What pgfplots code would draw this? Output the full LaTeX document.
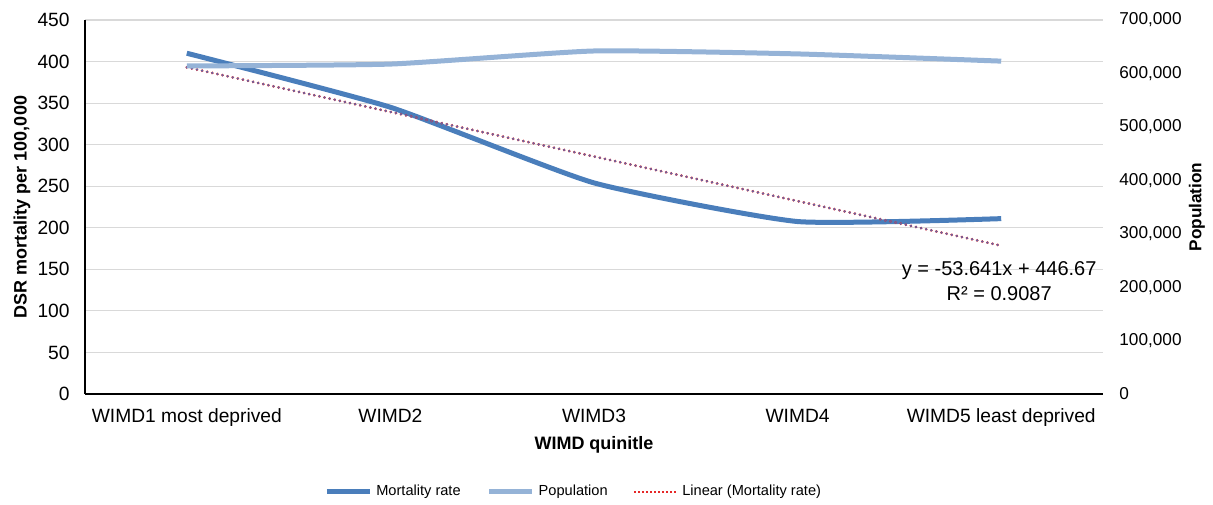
\documentclass[border=0pt]{standalone}
\usepackage{fontspec}
\setmainfont{Liberation Sans}
\usepackage{pgfplots}
\pgfplotsset{compat=1.18}

\definecolor{mortblue}{RGB}{74,126,187}
\definecolor{popblue}{RGB}{149,179,215}
\definecolor{gridgray}{RGB}{217,217,217}
\definecolor{trendred}{RGB}{230,40,40}
\definecolor{trendcore}{RGB}{100,100,165}

\begin{document}
\begin{tikzpicture}
% Primary axis: DSR mortality and its linear trend
\begin{axis}[
  name=ax,
  scale only axis,
  width=509pt, height=187pt,
  xmin=0.5, xmax=5.5,
  ymin=0, ymax=450,
  xtick={1,2,3,4,5},
  xticklabels={WIMD1 most deprived, WIMD2, WIMD3, WIMD4, WIMD5 least deprived},
  ytick={0,50,...,450},
  axis x line*=bottom, axis y line*=left,
  axis line style={black, line width=0.6pt},
  major tick length=0pt,
  ymajorgrids, grid style={gridgray, line width=0.6pt},
  /pgf/number format/assume math mode=true,
  every tick label/.append style={inner sep=0pt},
  xticklabel style={anchor=base, yshift=-14.5pt, font=\fontsize{9.6}{11}\selectfont},
  yticklabel style={anchor=east, xshift=-7.5pt, font=\fontsize{9.6}{11}\selectfont},
  xlabel={WIMD quinitle},
  xlabel style={at={(axis description cs:0.5,-0.136)}, anchor=center,
    font=\bfseries\fontsize{9}{11}\selectfont},
  ylabel={DSR mortality per 100,000},
  ylabel style={at={(axis description cs:-0.0619,0.5)}, anchor=center, rotate=0,
    font=\bfseries\fontsize{9}{11}\selectfont},
]
\addplot[mortblue, line width=2.5pt, smooth, tension=0.3] coordinates {
  (1,410) (2,345) (3,254) (4,207.5) (5,211)
};
% linear trend  y = -53.641x + 446.67
\addplot[trendred, line width=1.5pt, line cap=round, dash pattern=on 0.01pt off 2.6pt] coordinates {
  (1,393.03) (5,178.47)
};
\addplot[trendcore, line width=1.2pt, line cap=round, dash pattern=on 0.01pt off 2.6pt] coordinates {
  (1,393.03) (5,178.47)
};
\node[align=center, font=\fontsize{10}{12.4}\selectfont] at (axis cs:4.99,135.4)
  {y = -53.641x + 446.67\\R² = 0.9087};
\end{axis}

% Secondary axis: population
\begin{axis}[
  scale only axis,
  width=509pt, height=187pt,
  xmin=0.5, xmax=5.5,
  ymin=0, ymax=700000,
  ytick={0,100000,...,700000},
  axis x line=none,
  axis y line*=right,
  y axis line style={draw=none},
  major tick length=0pt,
  scaled y ticks=false,
  /pgf/number format/.cd, fixed, 1000 sep={,}, assume math mode=true,
  /pgfplots/.cd,
  every tick label/.append style={inner sep=0pt},
  yticklabel style={anchor=west, xshift=8pt, font=\fontsize{8.6}{10}\selectfont},
  ylabel={Population},
  ylabel style={at={(axis description cs:1.0923,0.5)}, anchor=center, rotate=0,
    font=\bfseries\fontsize{8.6}{10}\selectfont},
  legend style={draw=none, fill=none, at={(0.481,-0.262)}, anchor=center,
    font=\fontsize{7.3}{9}\selectfont,
    /tikz/every even column/.append style={column sep=11pt}},
  legend columns=3,
  legend cell align=left,
  legend image code/.code={\draw[#1] (0pt,0pt) -- (21.5pt,0pt);},
]
\addlegendimage{mortblue, line width=2.5pt}
\addlegendentry{Mortality rate}
\addplot[popblue, line width=2.5pt, smooth, tension=0.3] coordinates {
  (1,614000) (2,617500) (3,642000) (4,636500) (5,623000)
};
\addlegendentry{Population}
\addlegendimage{trendred, line width=0.8pt, dash pattern=on 1pt off 1pt}
\addlegendentry{Linear (Mortality rate)}
\end{axis}

\pgfresetboundingbox
\path ([shift={(-42.5pt,-55.5pt)}]ax.south west) rectangle ([shift={(55pt,10pt)}]ax.north east);
\end{tikzpicture}
\end{document}
